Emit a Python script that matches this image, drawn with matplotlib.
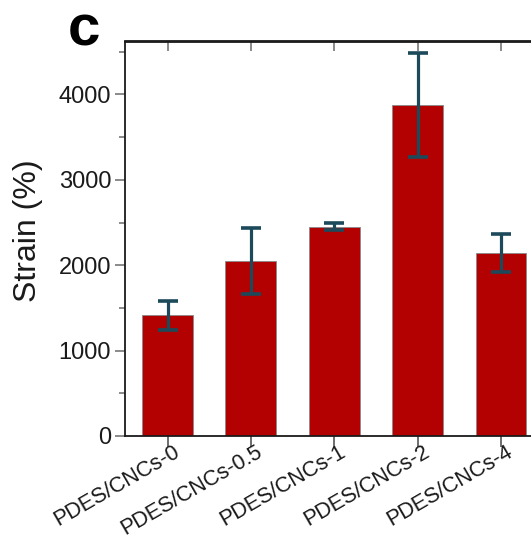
import numpy as np
import matplotlib
matplotlib.use("Agg")
import matplotlib.pyplot as plt
import matplotlib.transforms as mtransforms
from matplotlib.ticker import MultipleLocator

plt.rcParams['font.family'] = ['Liberation Sans', 'DejaVu Sans']

# data
samples = ["PDES/CNCs-0", "PDES/CNCs-0.5", "PDES/CNCs-1", "PDES/CNCs-2", "PDES/CNCs-4"]
strain = [1415, 2050, 2450, 3875, 2140]
strain_err = [170, 385, 42, 610, 225]

fig = plt.figure(figsize=(5.31, 5.39), dpi=100)
ax = fig.add_axes([125 / 531, 103 / 539, 418.5 / 531, 394.5 / 539])

x = np.arange(len(samples))
ax.bar(x, strain, width=0.61, color='#b30000', edgecolor='#8a8a8a', linewidth=0.6, zorder=2)
ax.errorbar(x, strain, yerr=strain_err, fmt='none', ecolor='#1c4a5a',
            elinewidth=2.3, capsize=7.5, capthick=2.6, zorder=3)

ax.set_xlim(-0.51, 4.51)
ax.set_ylim(0, 4620)
ax.yaxis.set_major_locator(MultipleLocator(1000))
ax.yaxis.set_minor_locator(MultipleLocator(500))

# x ticks without labels; labels drawn as rotated texts so they can be nudged
ax.set_xticks(x)
ax.set_xticklabels([])
label_tr = ax.get_xaxis_transform() + mtransforms.ScaledTranslation(
    5 / 100, -5 / 100, fig.dpi_scale_trans)
for xi, name in zip(x, samples):
    ax.text(xi, 0, name, transform=label_tr, rotation=30, rotation_mode='anchor',
            ha='right', va='top', fontsize=15.6, color='#1a1a1a', clip_on=False)

ax.tick_params(axis='y', which='major', direction='out', length=7, width=1.2,
               color='#777777', labelsize=17, labelcolor='#1a1a1a', pad=3)
ax.tick_params(axis='y', which='minor', direction='out', length=4, width=1.2, color='#777777')
ax.tick_params(axis='x', which='major', direction='out', length=8, width=1.2,
               color='#555555', pad=2)

# ticks on the top spine pointing inward
top = ax.secondary_xaxis('top')
top.set_xticks(x)
top.set_xticklabels([])
top.tick_params(direction='in', length=7, width=1.2, color='#777777')

for side in ['left', 'bottom', 'top']:
    ax.spines[side].set_linewidth(1.3)
    ax.spines[side].set_color('#1a1a1a')
top.spines['top'].set_linewidth(1.3)
top.spines['top'].set_color('#1a1a1a')

ax.set_ylabel("Strain (%)", fontsize=23, color='#1a1a1a')
ax.yaxis.set_label_coords(-0.195, 0.52)

fig.text(84 / 531, 1 - 30 / 539, "c", fontsize=42, fontweight='bold',
         ha='center', va='center')

fig.savefig("out.png", dpi=100)
